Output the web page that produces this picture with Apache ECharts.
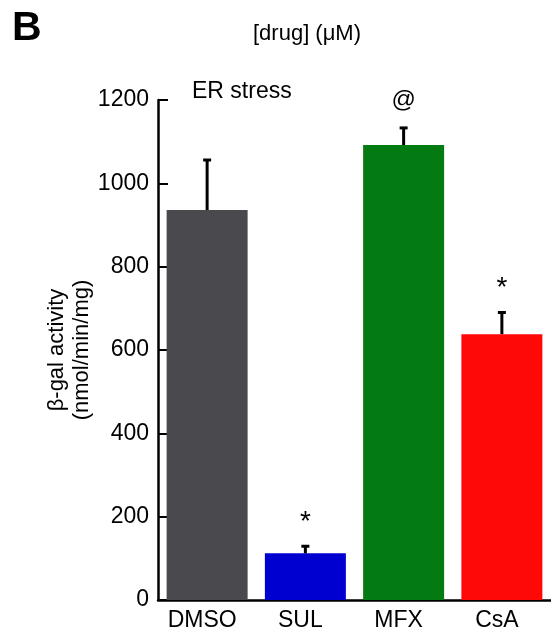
<!DOCTYPE html>
<html>
<head>
<meta charset="utf-8">
<title>β-gal activity</title>
<script src="https://cdn.jsdelivr.net/npm/echarts@6/dist/echarts.min.js"></script>
<style>
  html, body { margin: 0; padding: 0; background: #fff; }
  #chart { width: 551px; height: 637px; }
</style>
</head>
<body>
<div id="chart"></div>
<script>
// Treatment groups and their measured activity (mean, mean + SEM)
const categories = ['DMSO', 'SUL', 'MFX', 'CsA'];
const meanValues = [936, 112, 1092, 638];
const errorTops  = [1056, 129, 1133, 690];
const markers    = ['', '*', '@', '*'];
const barColors  = ['#4a494e', '#0000d0', '#047a13', '#ff0808'];
const yTicks     = { min: 0, max: 1200, step: 200 };

const FONT = '"Liberation Sans", Arial, Helvetica, sans-serif';
const FS = 23;

const chart = echarts.init(document.getElementById('chart'), null, { renderer: 'canvas' });

chart.setOption({
  animation: false,
  backgroundColor: '#ffffff',
  textStyle: { fontFamily: FONT, color: '#000' },
  grid: { left: 158, top: 100, width: 400, bottom: 37, containLabel: false },
  graphic: [
    { type: 'text', left: 12, top: 8,
      style: { text: 'B', font: 'bold 41px ' + FONT, fill: '#000' } },
    { type: 'text', left: 253, top: 23,
      style: { text: '[drug] (μM)', font: '22px ' + FONT, fill: '#000' } },
    { type: 'text', left: 192, top: 80,
      style: { text: 'ER stress', font: FS + 'px ' + FONT, fill: '#000' } }
  ],
  xAxis: {
    type: 'category',
    data: categories,
    boundaryGap: true,
    axisLine: { show: true, lineStyle: { color: '#000', width: 2.5 } },
    axisTick: { show: false },
    axisLabel: { color: '#000', fontSize: FS, fontFamily: FONT, margin: 9, padding: [0, 10, 0, 0] },
    splitLine: { show: false }
  },
  yAxis: {
    type: 'value',
    min: yTicks.min,
    max: yTicks.max,
    interval: yTicks.step,
    name: 'β-gal activity\n(nmol/min/mg)',
    nameLocation: 'middle',
    nameRotate: 90,
    nameGap: 64,
    nameMoveOverlap: false,
    nameTextStyle: { color: '#000', fontSize: 22, fontFamily: FONT, lineHeight: 25, align: 'center' },
    axisLine: { show: true, lineStyle: { color: '#000', width: 2.5 } },
    axisTick: { show: true, inside: true, length: 10, lineStyle: { color: '#000', width: 2 } },
    axisLabel: {
      color: '#000', fontSize: FS, fontFamily: FONT, margin: 9,
      formatter: function (v) { return String(v); }
    },
    splitLine: { show: false }
  },
  series: [
    {
      type: 'bar',
      barWidth: 81,
      data: meanValues.map((v, i) => ({ value: v, itemStyle: { color: barColors[i] } })),
      z: 2
    },
    {
      // upward error whiskers with caps, plus significance markers above them
      type: 'custom',
      z: 3,
      data: categories.map((c, i) => [i, meanValues[i], errorTops[i], markers[i]]),
      encode: { x: 0, y: [1, 2] },
      renderItem: function (params, api) {
        const idx = api.value(0);
        const base = api.coord([idx, api.value(1)]);
        const top = api.coord([idx, api.value(2)]);
        const mark = markers[params.dataIndex];
        const half = 4;
        const children = [
          { type: 'line', shape: { x1: base[0], y1: base[1], x2: top[0], y2: top[1] },
            style: { stroke: '#000', lineWidth: 3 } },
          { type: 'line', shape: { x1: top[0] - half, y1: top[1], x2: top[0] + half, y2: top[1] },
            style: { stroke: '#000', lineWidth: 3 } }
        ];
        if (mark) {
          children.push({
            type: 'text',
            style: {
              text: mark, x: top[0], y: top[1] - (mark === '*' ? 24 : 28),
              align: 'center', verticalAlign: 'middle',
              font: (mark === '*' ? '28px ' : '24px ') + FONT, fill: '#000'
            }
          });
        }
        return { type: 'group', children: children };
      }
    }
  ]
});
</script>
</body>
</html>
